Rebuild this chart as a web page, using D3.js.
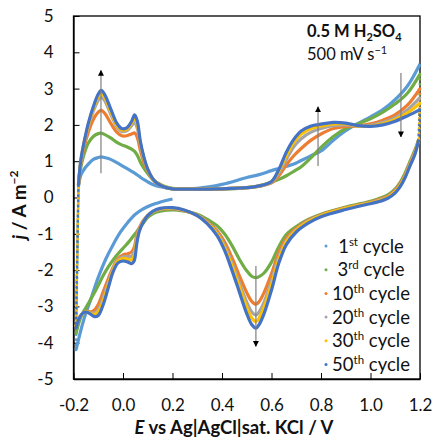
<!DOCTYPE html>
<html>
<head>
<meta charset="utf-8">
<script src="https://cdn.jsdelivr.net/npm/d3@7"></script>
<style>
body { margin: 0; background: #fff; }
svg { display: block; font-family: Lato, "Liberation Sans", sans-serif; }
</style>
</head>
<body>
<svg width="432" height="438"></svg>
<script>
"use strict";

// cycles shown in the legend
const cycleNums = ["1", "3", "10", "20", "30", "50"];
const cycleSuffix = ["st", "rd", "th", "th", "th", "th"];
const cycleColors = ["#5B9BD5", "#70AD47", "#ED7D31", "#A5A5A5", "#FFC000", "#4472C4"];

// anodic (forward) scan, E in V
const eAnodic = [-0.18, -0.17, -0.155, -0.14, -0.12, -0.1, -0.088, -0.075, -0.05, -0.025, -0.005, 0.015, 0.035, 0.047, 0.058, 0.07, 0.085, 0.1, 0.12, 0.14, 0.17, 0.2, 0.3, 0.4, 0.5, 0.55, 0.6, 0.63, 0.66, 0.69, 0.72, 0.76, 0.8, 0.85, 0.9, 0.95, 1.0, 1.05, 1.1, 1.15, 1.2];
const jAnodic1 = [0.3, 0.62, 0.8, 0.92, 1.05, 1.1, 1.12, 1.1, 1.05, 0.96, 0.88, 0.8, 0.72, 0.67, 0.62, 0.56, 0.49, 0.43, 0.36, 0.31, 0.27, 0.24, 0.25, 0.36, 0.55, 0.63, 0.74, 0.8, 0.86, 0.92, 1.02, 1.15, 1.28, 1.58, 1.84, 2.04, 2.22, 2.42, 2.7, 3.08, 3.68];
const jAnodic3 = [0.35, 0.85, 1.25, 1.5, 1.68, 1.76, 1.77, 1.74, 1.64, 1.52, 1.45, 1.4, 1.33, 1.27, 1.16, 0.98, 0.8, 0.66, 0.5, 0.4, 0.3, 0.25, 0.23, 0.23, 0.27, 0.32, 0.42, 0.5, 0.6, 0.72, 0.85, 1.1, 1.38, 1.68, 1.9, 2.03, 2.17, 2.35, 2.58, 2.88, 3.4];
const jAnodic10 = [0.35, 0.95, 1.45, 1.8, 2.15, 2.35, 2.4, 2.33, 2.05, 1.8, 1.7, 1.7, 1.75, 1.78, 1.65, 1.3, 0.95, 0.72, 0.5, 0.38, 0.28, 0.24, 0.23, 0.24, 0.27, 0.31, 0.4, 0.6, 0.9, 1.15, 1.35, 1.58, 1.75, 1.9, 1.96, 1.97, 2.03, 2.13, 2.28, 2.55, 3.0];
const jAnodic20 = [0.35, 1.0, 1.55, 1.95, 2.38, 2.68, 2.76, 2.68, 2.3, 1.95, 1.82, 1.84, 1.98, 2.06, 1.9, 1.45, 1.05, 0.76, 0.51, 0.38, 0.28, 0.24, 0.23, 0.24, 0.27, 0.31, 0.42, 0.68, 1.05, 1.4, 1.62, 1.8, 1.9, 1.98, 2.0, 1.97, 1.99, 2.07, 2.2, 2.42, 2.75];
const jAnodic30 = [0.35, 1.02, 1.58, 2.0, 2.45, 2.78, 2.86, 2.77, 2.38, 2.0, 1.86, 1.88, 2.05, 2.18, 2.0, 1.5, 1.08, 0.77, 0.52, 0.38, 0.28, 0.24, 0.23, 0.24, 0.27, 0.32, 0.44, 0.74, 1.15, 1.52, 1.75, 1.9, 1.97, 2.03, 2.03, 1.97, 1.97, 2.03, 2.15, 2.33, 2.6];
const jAnodic50 = [0.35, 1.05, 1.6, 2.05, 2.5, 2.85, 2.95, 2.85, 2.45, 2.05, 1.9, 1.92, 2.1, 2.28, 2.1, 1.55, 1.1, 0.78, 0.52, 0.38, 0.28, 0.24, 0.23, 0.24, 0.27, 0.32, 0.44, 0.78, 1.25, 1.6, 1.83, 1.97, 2.02, 2.07, 2.05, 1.98, 1.96, 2.0, 2.1, 2.25, 2.42];

// cathodic (reverse) scan
const eCathodic = [1.195, 1.18, 1.16, 1.14, 1.12, 1.1, 1.07, 1.03, 0.98, 0.9, 0.8, 0.75, 0.7, 0.66, 0.63, 0.6, 0.57, 0.55, 0.537, 0.52, 0.5, 0.47, 0.44, 0.41, 0.38, 0.34, 0.3, 0.25, 0.2, 0.15, 0.12, 0.1, 0.08, 0.065, 0.055, 0.045, 0.035, 0.02, 0.0, -0.02, -0.04, -0.06, -0.08, -0.1, -0.115, -0.13, -0.145, -0.16, -0.175, -0.19];
const jCathodic3 = [1.6, 1.32, 1.0, 0.68, 0.42, 0.24, 0.07, -0.04, -0.14, -0.26, -0.46, -0.6, -0.8, -1.02, -1.35, -1.78, -2.08, -2.18, -2.21, -2.17, -2.02, -1.7, -1.32, -1.0, -0.78, -0.6, -0.46, -0.38, -0.34, -0.38, -0.45, -0.55, -0.72, -0.85, -0.95, -1.03, -1.12, -1.25, -1.4, -1.55, -1.72, -1.92, -2.15, -2.42, -2.62, -2.8, -2.98, -3.15, -3.38, -3.75];
const jCathodic10 = [1.6, 1.28, 0.96, 0.63, 0.38, 0.2, 0.04, -0.06, -0.16, -0.28, -0.48, -0.62, -0.85, -1.12, -1.5, -2.1, -2.62, -2.87, -2.94, -2.86, -2.62, -2.15, -1.65, -1.22, -0.92, -0.66, -0.48, -0.37, -0.31, -0.33, -0.4, -0.5, -0.65, -0.85, -1.05, -1.38, -1.5, -1.55, -1.58, -1.68, -1.92, -2.25, -2.6, -2.95, -3.1, -3.15, -3.13, -3.18, -3.3, -3.55];
const jCathodic20 = [1.6, 1.25, 0.93, 0.6, 0.35, 0.18, 0.02, -0.08, -0.17, -0.29, -0.49, -0.64, -0.88, -1.18, -1.62, -2.3, -2.88, -3.15, -3.24, -3.15, -2.88, -2.35, -1.8, -1.32, -0.97, -0.68, -0.49, -0.36, -0.3, -0.32, -0.4, -0.5, -0.67, -0.9, -1.12, -1.5, -1.62, -1.63, -1.63, -1.72, -1.97, -2.35, -2.75, -3.08, -3.18, -3.18, -3.15, -3.18, -3.3, -3.55];
const jCathodic30 = [1.6, 1.22, 0.9, 0.58, 0.33, 0.16, 0.0, -0.1, -0.18, -0.3, -0.5, -0.66, -0.9, -1.22, -1.7, -2.4, -3.02, -3.32, -3.42, -3.32, -3.02, -2.45, -1.88, -1.38, -1.0, -0.7, -0.5, -0.36, -0.29, -0.31, -0.39, -0.5, -0.68, -0.92, -1.2, -1.6, -1.72, -1.7, -1.68, -1.75, -2.0, -2.42, -2.85, -3.15, -3.22, -3.2, -3.15, -3.18, -3.3, -3.55];
const jCathodic50 = [1.6, 1.2, 0.88, 0.55, 0.3, 0.13, -0.02, -0.12, -0.2, -0.33, -0.53, -0.7, -0.95, -1.3, -1.8, -2.55, -3.2, -3.5, -3.6, -3.5, -3.2, -2.6, -2.0, -1.45, -1.05, -0.72, -0.5, -0.35, -0.28, -0.3, -0.38, -0.5, -0.7, -0.95, -1.3, -1.75, -1.82, -1.78, -1.75, -1.8, -2.05, -2.5, -2.95, -3.25, -3.28, -3.22, -3.16, -3.17, -3.3, -3.6];
// first cycle starts at 0.2 V going negative
const eCathodic1 = [0.2, 0.17, 0.14, 0.11, 0.08, 0.05, 0.02, -0.01, -0.04, -0.07, -0.1, -0.13, -0.16, -0.19];
const jCathodic1 = [-0.04, -0.09, -0.15, -0.22, -0.32, -0.46, -0.68, -0.95, -1.3, -1.7, -2.2, -2.8, -3.4, -4.2];

// axes
const xTicks = [-0.2, 0.0, 0.2, 0.4, 0.6, 0.8, 1.0, 1.2];
const yTicks = [-5, -4, -3, -2, -1, 0, 1, 2, 3, 4, 5];

// trend arrows: E, j start, j end
const arrowE = [-0.089, 0.788, 1.123, 0.537];
const arrowFrom = [0.67, 0.87, 3.43, -1.89];
const arrowTo = [3.5, 2.5, 1.67, -4.1];

const plotLeft = 73.5, plotRight = 420, plotTop = 16, plotBottom = 379;

const zip = (es, js) => es.map((e, i) => [e, js[i]]);

const cycles = [
    { anodic: zip(eAnodic, jAnodic1), cathodic: zip(eCathodic1, jCathodic1), first: true },
    { anodic: zip(eAnodic, jAnodic3), cathodic: zip(eCathodic, jCathodic3) },
    { anodic: zip(eAnodic, jAnodic10), cathodic: zip(eCathodic, jCathodic10) },
    { anodic: zip(eAnodic, jAnodic20), cathodic: zip(eCathodic, jCathodic20) },
    { anodic: zip(eAnodic, jAnodic30), cathodic: zip(eCathodic, jCathodic30) },
    { anodic: zip(eAnodic, jAnodic50), cathodic: zip(eCathodic, jCathodic50) }
];

const svg = d3.select("svg");

const xScale = d3.scaleLinear().domain([-0.2, 1.2]).range([plotLeft, plotRight]);
const yScale = d3.scaleLinear().domain([-5, 5]).range([plotBottom, plotTop]);

// frame
svg.append("rect")
    .attr("x", plotLeft).attr("y", plotTop)
    .attr("width", plotRight - plotLeft).attr("height", plotBottom - plotTop)
    .attr("fill", "none").attr("stroke", "#000").attr("stroke-width", 1.3);

const xAxis = svg.append("g")
    .attr("transform", `translate(0,${plotBottom})`)
    .call(d3.axisBottom(xScale).tickValues(xTicks).tickFormat(d => d.toFixed(1)).tickSizeInner(-6).tickSizeOuter(0).tickPadding(20));
const yAxis = svg.append("g")
    .attr("transform", `translate(${plotLeft},0)`)
    .call(d3.axisLeft(yScale).tickValues(yTicks).tickFormat(d => String(d)).tickSizeInner(-6).tickSizeOuter(0).tickPadding(20));

[xAxis, yAxis].forEach(a => {
    a.select(".domain").attr("stroke", "#000").attr("stroke-width", 1.3);
    a.selectAll(".tick line").attr("stroke", "#000");
    a.selectAll("text").attr("font-family", "Lato, sans-serif").attr("font-size", 17).attr("fill", "#111");
});

const line = d3.line()
    .x(d => xScale(d[0]))
    .y(d => yScale(d[1]))
    .curve(d3.curveCatmullRom.alpha(0.5));

const plot = svg.append("g");

cycles.forEach((c, i) => {
    const g = plot.append("g").attr("fill", "none").attr("stroke", cycleColors[i]);
    // potential switch points, sparse markers
    const switches = [[c.cathodic[c.cathodic.length - 1], c.anodic[0]]];
    if (!c.first) switches.push([c.anodic[c.anodic.length - 1], c.cathodic[0]]);
    switches.forEach(s => {
        g.append("path")
            .attr("d", d3.line().x(d => xScale(d[0])).y(d => yScale(d[1]))(s))
            .attr("stroke-width", 2.6)
            .attr("stroke-linecap", "round")
            .attr("stroke-dasharray", "0.1,5");
    });
    [c.cathodic, c.anodic].forEach(pts => {
        g.append("path")
            .attr("d", line(pts))
            .attr("stroke-width", 3.2)
            .attr("stroke-linejoin", "round");
    });
});

// arrows
const defs = svg.append("defs");
defs.append("marker")
    .attr("id", "head")
    .attr("viewBox", "0 0 10 10")
    .attr("refX", 9).attr("refY", 5)
    .attr("markerWidth", 6).attr("markerHeight", 9)
    .attr("markerUnits", "userSpaceOnUse")
    .attr("orient", "auto")
    .append("path").attr("d", "M0,0L10,5L0,10Z").attr("fill", "#000");

arrowE.forEach((e, i) => {
    svg.append("line")
        .attr("x1", xScale(e)).attr("x2", xScale(e))
        .attr("y1", yScale(arrowFrom[i])).attr("y2", yScale(arrowTo[i]))
        .attr("stroke", "#7f7f7f").attr("stroke-width", 1.2)
        .attr("marker-end", "url(#head)");
});

// conditions
const note = svg.append("g").attr("font-family", "Lato, sans-serif").attr("fill", "#111");
const t1 = note.append("text").attr("x", 307).attr("y", 37).attr("font-size", 16.5).attr("font-weight", "bold");
t1.append("tspan").text("0.5 M H");
t1.append("tspan").text("2").attr("font-size", 11).attr("dy", 4);
t1.append("tspan").text("SO").attr("dy", -4);
t1.append("tspan").text("4").attr("font-size", 11).attr("dy", 4);
const t2 = note.append("text").attr("x", 307).attr("y", 60).attr("font-size", 16.5);
t2.append("tspan").text("500 mV s");
t2.append("tspan").text("\u22121").attr("font-size", 11).attr("dy", -6);

// legend
const legend = svg.append("g").attr("font-family", "Lato, sans-serif");
cycleNums.forEach((n, i) => {
    const yy = 246 + i * 23.7;
    legend.append("circle").attr("cx", 326).attr("cy", yy).attr("r", 1.5).attr("fill", cycleColors[i]);
    const t = legend.append("text").attr("x", 371).attr("y", yy + 6.5)
        .attr("text-anchor", "middle").attr("font-size", 18.5).attr("fill", "#111");
    t.append("tspan").text(n);
    t.append("tspan").text(cycleSuffix[i]).attr("font-size", 11.5).attr("dy", -7);
    t.append("tspan").text(" cycle").attr("dy", 7);
});

// axis titles
const xt = svg.append("text").attr("x", 234).attr("y", 434)
    .attr("text-anchor", "middle").attr("font-size", 18.5).attr("font-weight", "bold").attr("fill", "#111");
xt.append("tspan").text("E").attr("font-style", "italic");
xt.append("tspan").text(" vs Ag|AgCl|sat. KCl / V");

const yt = svg.append("text").attr("transform", "translate(26,205) rotate(-90)")
    .attr("text-anchor", "middle").attr("font-size", 19).attr("font-weight", "bold").attr("fill", "#111");
yt.append("tspan").text("j").attr("font-style", "italic");
yt.append("tspan").text(" / A m");
yt.append("tspan").text("\u22122").attr("font-size", 12).attr("dy", -8);
</script>
</body>
</html>
